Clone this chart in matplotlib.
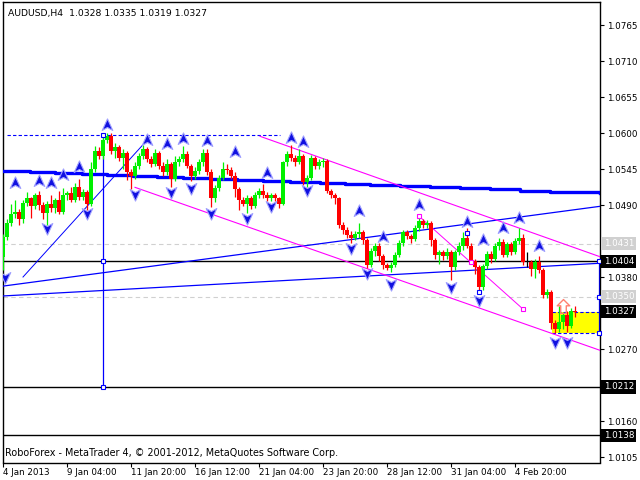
import numpy as np
import matplotlib.pyplot as plt
from matplotlib.path import Path
from matplotlib.patches import Rectangle

# AUDUSD H4 candles, bar index 0 = 4 Jan 2013
first_open = 1.0411
closes = [1.0441, 1.0462, 1.0477, 1.0480, 1.0468, 1.0493, 1.0500, 1.0488, 1.0505, 1.0490,
          1.0478, 1.0492, 1.0485, 1.0497, 1.0480, 1.0505, 1.0508, 1.0497, 1.0518, 1.0502,
          1.0510, 1.0492, 1.0545, 1.0572, 1.0565, 1.0590, 1.0595, 1.0572, 1.0578, 1.0562,
          1.0570, 1.0540, 1.0535, 1.0550, 1.0565, 1.0575, 1.0560, 1.0553, 1.0570, 1.0550,
          1.0540, 1.0552, 1.0530, 1.0555, 1.0560, 1.0568, 1.0550, 1.0535, 1.0542, 1.0555,
          1.0570, 1.0540, 1.0500, 1.0516, 1.0532, 1.0545, 1.0543, 1.0535, 1.0515, 1.0498,
          1.0492, 1.0500, 1.0488, 1.0505, 1.0512, 1.0505, 1.0500, 1.0505, 1.0500, 1.0492,
          1.0555, 1.0568, 1.0562, 1.0555, 1.0565, 1.0525, 1.0532, 1.0562, 1.0550, 1.0555,
          1.0558, 1.0512, 1.0505, 1.0500, 1.0460, 1.0452, 1.0444, 1.0440, 1.0445, 1.0448,
          1.0436, 1.0398, 1.0420, 1.0428, 1.0412, 1.0398, 1.0393, 1.0398, 1.0413, 1.0432,
          1.0448, 1.0442, 1.0438, 1.0455, 1.0465, 1.0460, 1.0463, 1.0436, 1.0414, 1.0418,
          1.0412, 1.0418, 1.0395, 1.0418, 1.0428, 1.0440, 1.0428, 1.0405, 1.0395, 1.0365,
          1.0397, 1.0415, 1.0408, 1.0428, 1.0433, 1.0414, 1.0430, 1.0418, 1.0435, 1.0440,
          1.0403, 1.0403, 1.0392, 1.0403, 1.0390, 1.0352, 1.0357, 1.0310, 1.0300, 1.0312,
          1.0322, 1.0305, 1.0328, 1.0327]
highs = [1.0445, 1.0468, 1.0492, 1.0497, 1.0484, 1.0497, 1.0510, 1.0503, 1.0509, 1.0512,
         1.0494, 1.0496, 1.0505, 1.0500, 1.0512, 1.0516, 1.0512, 1.0518, 1.0524, 1.0530,
         1.0514, 1.0513, 1.0556, 1.0580, 1.0578, 1.0598, 1.0600, 1.0600, 1.0585, 1.0582,
         1.0575, 1.0573, 1.0545, 1.0556, 1.0570, 1.0582, 1.0578, 1.0565, 1.0575, 1.0573,
         1.0555, 1.0560, 1.0556, 1.0565, 1.0565, 1.0580, 1.0572, 1.0553, 1.0548, 1.0560,
         1.0576, 1.0576, 1.0545, 1.0520, 1.0536, 1.0555, 1.0552, 1.0548, 1.0540, 1.0518,
         1.0502, 1.0505, 1.0504, 1.0510, 1.0516, 1.0522, 1.0510, 1.0508, 1.0508, 1.0503,
         1.0558, 1.0572, 1.0582, 1.0566, 1.0575, 1.0568, 1.0536, 1.0566, 1.0565, 1.0560,
         1.0562, 1.0560, 1.0515, 1.0508, 1.0503, 1.0464, 1.0456, 1.0450, 1.0450, 1.0462,
         1.0452, 1.0440, 1.0424, 1.0432, 1.0432, 1.0415, 1.0402, 1.0403, 1.0418, 1.0436,
         1.0452, 1.0452, 1.0446, 1.0460, 1.0470, 1.0468, 1.0467, 1.0466, 1.0440, 1.0422,
         1.0422, 1.0424, 1.0422, 1.0422, 1.0434, 1.0448, 1.0455, 1.0432, 1.0408, 1.0398,
         1.0400, 1.0420, 1.0420, 1.0432, 1.0440, 1.0438, 1.0434, 1.0434, 1.0440, 1.0455,
         1.0445, 1.0418, 1.0406, 1.0408, 1.0412, 1.0393, 1.0362, 1.0360, 1.0314, 1.0335,
         1.0326, 1.0328, 1.0332, 1.0335]
lows = [1.0391, 1.0436, 1.0458, 1.0470, 1.0460, 1.0463, 1.0488, 1.0470, 1.0484, 1.0482,
        1.0468, 1.0460, 1.0480, 1.0478, 1.0477, 1.0476, 1.0498, 1.0494, 1.0494, 1.0498,
        1.0498, 1.0482, 1.0488, 1.0540, 1.0560, 1.0560, 1.0584, 1.0568, 1.0562, 1.0558,
        1.0545, 1.0528, 1.0515, 1.0530, 1.0545, 1.0560, 1.0555, 1.0548, 1.0550, 1.0545,
        1.0535, 1.0536, 1.0518, 1.0526, 1.0550, 1.0556, 1.0546, 1.0526, 1.0530, 1.0538,
        1.0550, 1.0536, 1.0487, 1.0495, 1.0512, 1.0528, 1.0538, 1.0530, 1.0503, 1.0482,
        1.0488, 1.0478, 1.0484, 1.0485, 1.0500, 1.0500, 1.0496, 1.0496, 1.0496, 1.0486,
        1.0490, 1.0550, 1.0558, 1.0550, 1.0552, 1.0520, 1.0518, 1.0528, 1.0545, 1.0545,
        1.0548, 1.0508, 1.0500, 1.0492, 1.0455, 1.0445, 1.0440, 1.0432, 1.0436, 1.0440,
        1.0430, 1.0394, 1.0395, 1.0412, 1.0405, 1.0392, 1.0390, 1.0388, 1.0395, 1.0410,
        1.0428, 1.0438, 1.0432, 1.0435, 1.0450, 1.0455, 1.0455, 1.0428, 1.0408, 1.0400,
        1.0406, 1.0408, 1.0376, 1.0390, 1.0414, 1.0422, 1.0424, 1.0400, 1.0385, 1.0357,
        1.0360, 1.0392, 1.0402, 1.0404, 1.0422, 1.0410, 1.0410, 1.0414, 1.0415, 1.0430,
        1.0398, 1.0396, 1.0382, 1.0378, 1.0386, 1.0348, 1.0348, 1.0300, 1.0294, 1.0296,
        1.0300, 1.0296, 1.0302, 1.0319]
opens = [first_open] + closes[:-1]

time_ticks = [0, 16, 32, 48, 64, 80, 96, 112, 128]
time_labels = ['4 Jan 2013', '9 Jan 04:00', '11 Jan 20:00', '16 Jan 12:00', '21 Jan 04:00',
               '23 Jan 20:00', '28 Jan 12:00', '31 Jan 04:00', '4 Feb 20:00']
price_ticks = [1.0765, 1.0710, 1.0655, 1.0600, 1.0545, 1.0490, 1.0380, 1.0270, 1.0160, 1.0105]

# fractal arrows (bar, price)
frac_up_x = [3, 9, 12, 15, 19, 26, 36, 41, 45, 51, 58, 66, 72, 75, 89, 95, 104, 116, 120, 125, 129, 134]
frac_up_y = [1.0524, 1.0527, 1.0524, 1.0536, 1.0548, 1.0612, 1.0589, 1.0583, 1.0591, 1.0588,
             1.0571, 1.0539, 1.0592, 1.0586, 1.0481, 1.0441, 1.0490, 1.0464, 1.0436, 1.0455,
             1.0470, 1.0427]
frac_dn_x = [0.5, 11, 21, 33, 42, 47, 52, 61, 67, 76, 87, 91, 97, 112, 119, 138, 141]
frac_dn_y = [1.0380, 1.0455, 1.0478, 1.0507, 1.0510, 1.0516, 1.0478, 1.0470, 1.0488, 1.0513,
             1.0424, 1.0386, 1.0369, 1.0365, 1.0345, 1.0281, 1.0281]

# slow moving average (steps)
ma_x = [-0.125, 6.75, 13, 19.75, 26, 32.5, 38.5, 45, 51.75, 58.5, 65, 71.75, 79.25, 85.5,
        91.75, 99.25, 106.75, 114.25, 121.75, 129.25, 136.75, 149.25]
ma_y = [1.0542, 1.0541, 1.0539, 1.0537, 1.0536, 1.0535, 1.0533, 1.0532, 1.0530, 1.0528,
        1.0527, 1.0525, 1.0524, 1.0522, 1.0521, 1.0519, 1.0517, 1.0516, 1.0514, 1.0512,
        1.0510, 1.0508]

# levels
black_levels = [1.0404, 1.0212, 1.0138]
gray_levels = [1.0431, 1.0350]
last_price = 1.0327
box_low, box_high = 1.0294, 1.0327

GREEN = '#00f000'
RED = '#ff0000'
BLUE = '#0000ff'
MAGENTA = '#ff00ff'
FS = 6.3

fig = plt.figure(figsize=(6.4, 4.8), dpi=100)
ax = fig.add_axes([2.5 / 640, 17.5 / 480, 597.5 / 640, 460 / 480])
ax.set_xlim(-0.125, 149.25)
ax.set_ylim(1.00966, 1.07994)

# background objects
ax.add_patch(Rectangle((137.25, box_low), 149 - 137.25, box_high - box_low,
                       fc='#ffff00', ec='none', zorder=1))
ax.hlines([box_high, box_low], 137.25, 149, colors=BLUE, lw=0.8, linestyles=(0, (3, 2)), zorder=2)
ax.vlines(149, box_low, 1.0404, colors=BLUE, lw=0.9, zorder=2)
ax.plot([149, 149, 149], [1.0404, 1.0350, box_low], 's', ms=3.5, mfc='white', mec=BLUE, mew=0.8,
        zorder=6, clip_on=False)

for lv in gray_levels:
    ax.axhline(lv, color='#d0d0d0', lw=0.8, ls=(0, (4, 3)), zorder=1)
for lv in black_levels:
    ax.axhline(lv, color='black', lw=1.0, zorder=2)

ax.hlines(1.0597, 1, 69.25, colors=BLUE, lw=0.8, linestyles=(0, (3, 2)), zorder=2)
ax.vlines(25.1, 1.0212, 1.0597, colors=BLUE, lw=0.9, zorder=3)
ax.plot([25.1, 25.1, 25.1], [1.0597, 1.0404, 1.0212], 's', ms=3.5, mfc='white', mec=BLUE,
        mew=0.8, zorder=6)

ax.step(ma_x, ma_y, where='post', color=BLUE, lw=2.4, zorder=3)
ax.plot([5, 36.75], [1.0380, 1.0594], color=BLUE, lw=0.7, zorder=3)
ax.plot([-0.125, 149.25], [1.0366, 1.0488], color=BLUE, lw=0.9, zorder=3)
ax.plot([-0.125, 149.25], [1.0351, 1.0401], color=BLUE, lw=0.9, zorder=3)

ax.plot([64.25, 149.25], [1.0595, 1.0411], color=MAGENTA, lw=0.8, zorder=3)
ax.plot([33, 149.25], [1.0517, 1.0268], color=MAGENTA, lw=0.8, zorder=3)
ax.plot([104, 130], [1.0473, 1.0331], color=MAGENTA, lw=0.7, zorder=3)
ax.plot([104, 117, 130], [1.0473, 1.0403, 1.0331], 's', ms=3.5, mfc='white', mec=MAGENTA,
        mew=0.8, zorder=7)
ax.plot([116, 119], [1.0447, 1.0357], 's', ms=3.5, mfc='white', mec=BLUE, mew=0.8, zorder=7)

# candles
o = np.array(opens)
c = np.array(closes)
x = np.arange(len(c))
colors = np.where(c > o, GREEN, np.where(c < o, RED, 'black'))
ax.vlines(x, lows, highs, colors=colors, lw=0.9, zorder=4)
body_h = np.maximum(np.abs(c - o), 0.00005)
ax.bar(x, body_h, bottom=np.minimum(o, c), width=0.78, color=colors, lw=0, zorder=5)

# fractal arrows
up_path = Path([(0, 1), (0.8, -0.75), (0, -0.3), (-0.8, -0.75), (0, 1)],
               [Path.MOVETO, Path.LINETO, Path.LINETO, Path.LINETO, Path.CLOSEPOLY])
dn_path = Path([(0, -1), (0.8, 0.75), (0, 0.3), (-0.8, 0.75), (0, -1)],
               [Path.MOVETO, Path.LINETO, Path.LINETO, Path.LINETO, Path.CLOSEPOLY])
ax.plot(frac_up_x, frac_up_y, ls='none', marker=up_path, ms=9.5, mfc='#1010e0', mec='#a0a0ff',
        mew=0.8, zorder=8)
ax.plot(frac_dn_x, frac_dn_y, ls='none', marker=dn_path, ms=9.5, mfc='#1010e0', mec='#a0a0ff',
        mew=0.8, zorder=8)

# hollow arrow
arrow_path = Path([(0, 1), (0.9, 0.1), (0.4, 0.1), (0.4, -1), (-0.4, -1), (-0.4, 0.1),
                   (-0.9, 0.1), (0, 1)],
                  [Path.MOVETO] + [Path.LINETO] * 6 + [Path.CLOSEPOLY])
ax.plot([140], [1.0336], ls='none', marker=arrow_path, ms=10, mfc='none', mec='#ff8070',
        mew=1.0, zorder=9)

# axes styling
for s in ['left', 'top', 'right', 'bottom']:
    ax.spines[s].set_linewidth(1.0)
ax.yaxis.tick_right()
ax.set_yticks(price_ticks)
ax.set_yticklabels(['%.4f' % p for p in price_ticks])
ax.tick_params(axis='y', direction='out', length=3, width=0.8, labelsize=FS, pad=2)
ax.set_xticks(time_ticks)
ax.set_xticklabels(time_labels, ha='left')
ax.tick_params(axis='x', direction='out', length=3, width=0.8, labelsize=FS, pad=1)

ytr = ax.get_yaxis_transform()
for lv in black_levels + [last_price]:
    ax.text(1.006, lv, '%.4f' % lv, transform=ytr, fontsize=FS, color='white', va='center',
            ha='left', clip_on=False,
            bbox=dict(boxstyle='square,pad=0.25', fc='black', ec='none'), zorder=10)
for lv in gray_levels:
    ax.text(1.006, lv, '%.4f' % lv, transform=ytr, fontsize=FS, color='white', va='center',
            ha='left', clip_on=False,
            bbox=dict(boxstyle='square,pad=0.25', fc='#d0d0d0', ec='none'), zorder=10)

ax.text(0.009, 0.977, 'AUDUSD,H4  1.0328 1.0335 1.0319 1.0327', transform=ax.transAxes,
        fontsize=FS + 0.4, va='center', ha='left', zorder=10)
ax.text(0.004, 0.02, 'RoboForex - MetaTrader 4, \u00a9 2001-2012, MetaQuotes Software Corp.',
        transform=ax.transAxes, fontsize=FS + 0.6, va='center', ha='left', zorder=10)

fig.savefig('out.png', dpi=100)
